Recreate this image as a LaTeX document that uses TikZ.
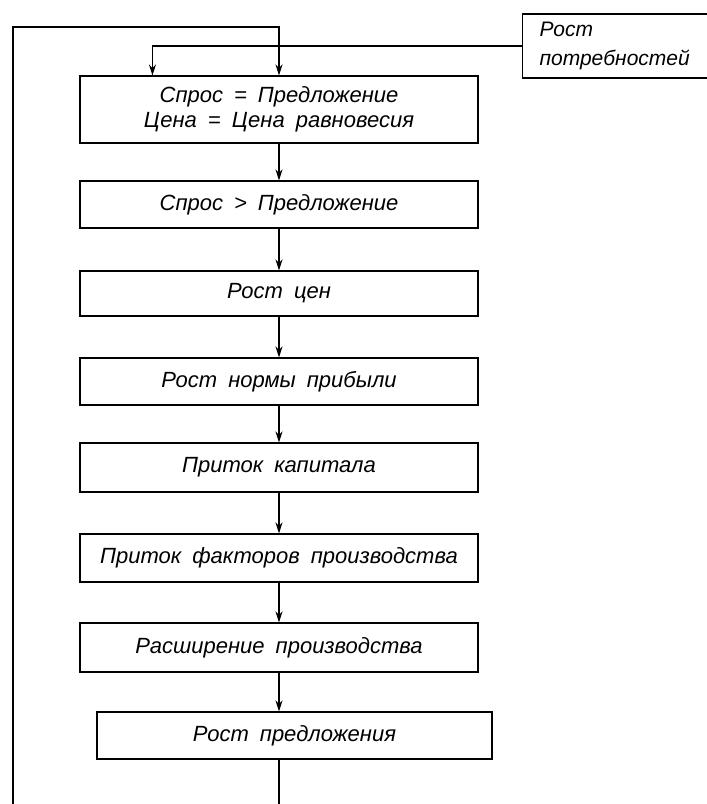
\documentclass[tikz,border=0pt]{standalone}
\usepackage{fontspec}
\setmainfont{Liberation Sans}
\usetikzlibrary{arrows.meta}
\newcommand\boxfont{\fontsize{22}{25}\selectfont\itshape\spaceskip 0.5em plus 0.1em\relax}

\begin{document}
\begin{tikzpicture}[x=1pt,y=-1pt,>={Stealth[length=11pt,width=7pt]},
    box/.style={draw,line width=1.1pt,minimum width=398pt,inner sep=0pt,align=center,font=\boxfont}]
    \clip (0,0) rectangle (707,804);
    \node[box,minimum height=67pt] (b1) at (279,109.5) {Спрос = Предложение\\Цена = Цена равновесия};
    \node[box,minimum height=47pt] (b2) at (279,204.5) {Спрос > Предложение};
    \node[box,minimum height=45pt] (b3) at (279,293.5) {Рост цен};
    \node[box,minimum height=47pt] (b4) at (279,381.5) {Рост нормы прибыли};
    \node[box,minimum height=49pt] (b5) at (279,467.5) {Приток капитала};
    \node[box,minimum height=48pt] (b6) at (279,558) {Приток факторов производства};
    \node[box,minimum height=49pt] (b7) at (279,647.5) {Расширение производства};
    \node[box,minimum height=47pt,minimum width=395pt] (b8) at (294.5,735.5) {Рост предложения};
    \node[box,minimum height=64pt,minimum width=214pt,text width=180pt,inner xsep=17pt,align=left,anchor=west,font=\fontsize{21}{29}\selectfont\itshape] (need) at (522,46) {Рост\\потребностей};
    \coordinate (top) at (279,27);
    \coordinate (lb) at (13,804);
    \coordinate (end) at (279,804);
    \draw[->,line width=1.1pt] (lb) |- (top) -- (b1.north);
    \draw[->,line width=1.1pt] (need.west) -| ([xshift=73pt]b1.north west);
    \draw[->,line width=1.1pt] (b1) -- (b2);
    \draw[->,line width=1.1pt] (b2) -- (b3);
    \draw[->,line width=1.1pt] (b3) -- (b4);
    \draw[->,line width=1.1pt] (b4) -- (b5);
    \draw[->,line width=1.1pt] (b5) -- (b6);
    \draw[->,line width=1.1pt] (b6) -- (b7);
    \draw[->,line width=1.1pt] (b7.south) -- (b7.south |- b8.north);
    \draw[line width=1.1pt] (b8.south -| b7.south) -- (end);
\end{tikzpicture}
\end{document}
